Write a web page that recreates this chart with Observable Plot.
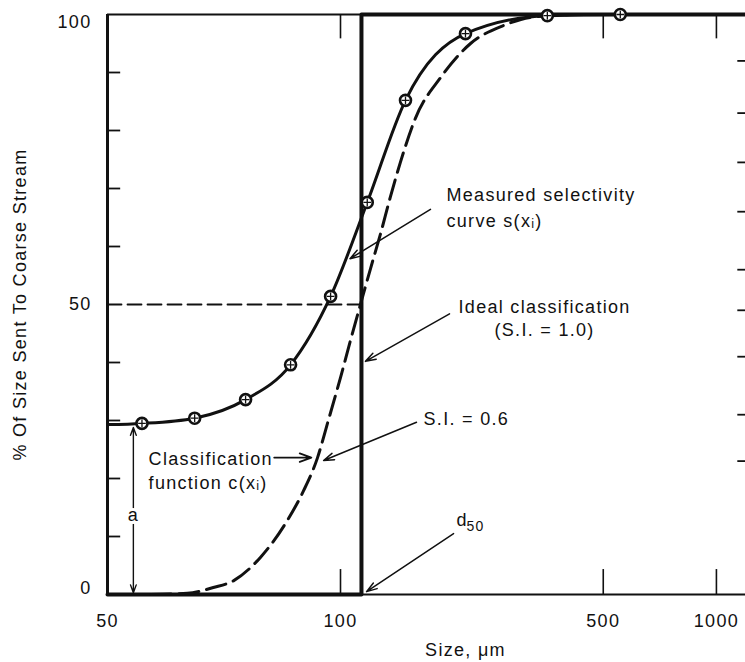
<!DOCTYPE html>
<html>
<head>
<meta charset="utf-8">
<script src="https://cdn.jsdelivr.net/npm/d3@7"></script>
<script src="https://cdn.jsdelivr.net/npm/@observablehq/plot@0.6"></script>
<style>
  html, body { margin: 0; padding: 0; background: #fff; }
  svg { display: block; }
</style>
</head>
<body>
<script>
// Measured selectivity s(x): sieve sizes (µm) and % reporting to the coarse stream
const sizes    = [55.4, 64.8, 75.4, 86.2, 97.1, 117.8, 148.9, 215, 355, 555];
const measured = [29.5, 30.4, 33.6, 39.6, 51.4, 67.6, 85.2, 96.7, 99.8, 100];

// Smooth selectivity line through the measurements, run out to both edges
const sCurveX = [50, 55.4, 64.8, 75.4, 86.2, 97.1, 117.8, 148.9, 215, 355, 555, 1195];
const sCurveY = [29.3, 29.5, 30.4, 33.6, 39.6, 51.4, 67.6, 85.2, 96.7, 99.8, 100, 100];

// Corrected classification function c(x) (S.I. = 0.6)
const cX = [56.9, 63.4, 68.5, 72.8, 78.8, 85.4, 89.6, 93.4, 96.2, 100, 106.3, 113, 120.2, 127.8, 135.8, 144.3, 158.2, 184.5, 221.8, 271.5, 320, 409];
const cY = [0, 0.2, 1.2, 2.4, 6.4, 12.8, 17.9, 23.6, 29.5, 37.4, 43.8, 50, 56.2, 62.2, 68.6, 74.5, 82.1, 89.1, 95, 98.1, 99.5, 100];

// Ideal (sharp) classification at the cut size
const d50 = 113.7;
const bypass = 29.3;  // fraction "a" short-circuiting to the coarse stream

// Axis ticks
const xTicks = [50, 100, 500, 1000];
const xMinorTicks = [100, 500, 1000];
const yTicks = [0, 50, 100];
const yLeftTicks = [10, 20, 30, 40, 60, 70, 80, 90];
const yRightTicks = [92, 83, 74.5, 66, 56, 49, 41, 31, 23];

const measuredPts = sizes.map((s, i) => ({size: s, pct: measured[i]}));
const sLine = sCurveX.map((s, i) => ({size: s, pct: sCurveY[i]}));
const cLine = cX.map((s, i) => ({size: s, pct: cY[i]}));
const ideal = [
  {size: 50, pct: 0}, {size: d50, pct: 0},
  {size: d50, pct: 100}, {size: 1195, pct: 100}
];
const halfLine = [{size: 50, pct: 50}, {size: d50, pct: 50}];

const ink = "#111";
const font = 18;

// y tick labels: the end labels sit just inside the frame
const yLabel = (v, dy) => Plot.text(yTicks.filter(t => t === v), {
  x: 50, y: d => d, text: d => String(d), dx: -16, dy, textAnchor: "end", fontSize: font, fill: ink
});

const chart = Plot.plot({
  width: 745,
  height: 662,
  marginLeft: 107,
  marginRight: 0,
  marginTop: 14,
  marginBottom: 68,
  style: {
    fontFamily: "'Liberation Sans', Arial, Helvetica, sans-serif",
    fontSize: font + "px",
    letterSpacing: "1.3px",
    color: ink,
    background: "#fff"
  },
  x: {type: "log", domain: [50, 100, 1195], range: [107, 340, 745], label: null},
  y: {domain: [0, 100], range: [594, 14], label: null},
  marks: [
    // frame
    Plot.ruleY([0, 100], {x1: 50, x2: 1195, stroke: ink, strokeWidth: 2.2}),
    Plot.ruleX([50], {y1: 0, y2: 100, stroke: ink, strokeWidth: 3}),
    // inward ticks
    Plot.ruleY(yLeftTicks, {x1: 50, x2: 52, stroke: ink, strokeWidth: 1.8}),
    Plot.ruleY(yRightTicks, {x1: 1140, x2: 1195, stroke: ink, strokeWidth: 1.8}),
    Plot.ruleX(xMinorTicks, {y1: 0, y2: 4.3, stroke: ink, strokeWidth: 1.6}),
    Plot.ruleX(xMinorTicks, {y1: 100, y2: 95.8, stroke: ink, strokeWidth: 1.6}),
    // tick labels and titles
    Plot.axisX({ticks: xTicks, tickSize: 0, tickPadding: 20, tickFormat: d => String(d), fontSize: font, label: null}),
    Plot.axisY({ticks: [], label: "% Of Size Sent To Coarse Stream", labelAnchor: "center", labelOffset: 94, labelArrow: false, fontSize: font}),
    yLabel(100, 8),
    yLabel(50, 0),
    yLabel(0, -6),
    Plot.text(["Size, \u03bcm"], {x: 215, frameAnchor: "bottom", dy: 61, fontSize: font}),

    // 50 % level up to the cut size
    Plot.line(halfLine, {x: "size", y: "pct", stroke: ink, strokeWidth: 1.8, strokeDasharray: "14,6"}),
    // ideal classification
    Plot.line(ideal, {x: "size", y: "pct", stroke: ink, strokeWidth: 4}),
    // classification function
    Plot.line(cLine, {x: "size", y: "pct", curve: "monotone-x", stroke: ink, strokeWidth: 3, strokeDasharray: "20,8"}),
    // measured selectivity curve and points
    Plot.line(sLine, {x: "size", y: "pct", curve: "monotone-x", stroke: ink, strokeWidth: 3}),
    Plot.dot(measuredPts, {x: "size", y: "pct", r: 5.5, stroke: ink, strokeWidth: 2.6, fill: "#fff"}),
    Plot.dot(measuredPts, {x: "size", y: "pct", r: 2.6, symbol: "plus", stroke: ink, strokeWidth: 1.3}),

    // bypass "a"
    Plot.arrow([{y1: bypass / 2, y2: bypass - 0.5}, {y1: bypass / 2, y2: 0.3}],
      {x1: 54, x2: 54, y1: "y1", y2: "y2", stroke: ink, strokeWidth: 1.4, headLength: 9, headAngle: 40}),
    Plot.text(["a"], {x: 54, y: 13.6, fill: ink, stroke: "#fff", strokeWidth: 6, fontSize: font}),

    // annotations
    Plot.text(["Measured selectivity\ncurve s(x\u1d62)"], {x: 191.4, y: 67, textAnchor: "start", lineHeight: 1.44, fontSize: font, fill: ink}),
    Plot.arrow([0], {x1: 173.5, y1: 66.4, x2: 106, y2: 57.9, stroke: ink, strokeWidth: 1.5, headLength: 11, headAngle: 36}),

    Plot.text(["Ideal classification\n(S.I. = 1.0)"], {x: 349, y: 47.8, textAnchor: "middle", lineHeight: 1.28, fontSize: font, fill: ink}),
    Plot.arrow([0], {x1: 195, y1: 48.4, x2: 116.5, y2: 40.2, stroke: ink, strokeWidth: 1.5, headLength: 11, headAngle: 36}),

    Plot.text(["S.I. = 0.6"], {x: 166.3, y: 30.3, textAnchor: "start", fontSize: font, fill: ink}),
    Plot.arrow([0], {x1: 159.3, y1: 29.7, x2: 95.1, y2: 23.1, stroke: ink, strokeWidth: 1.5, headLength: 11, headAngle: 36}),

    Plot.text(["Classification\nfunction c(x\u1d62)"], {x: 56.5, y: 21.6, textAnchor: "start", lineHeight: 1.33, fontSize: font, fill: ink}),
    Plot.arrow([0], {x1: 82.1, y1: 23.6, x2: 91.7, y2: 23.6, stroke: ink, strokeWidth: 1.8, headLength: 11, headAngle: 40}),

    Plot.text(["d"], {x: 203.5, y: 12.8, textAnchor: "start", fontSize: font, fill: ink}),
    Plot.text(["50"], {x: 216.3, y: 11.7, textAnchor: "start", fontSize: 14, fill: ink}),
    Plot.arrow([0], {x1: 199.9, y1: 10.5, x2: 117.3, y2: 0.5, stroke: ink, strokeWidth: 1.5, headLength: 11, headAngle: 36})
  ]
});

document.body.appendChild(chart);
</script>
</body>
</html>
